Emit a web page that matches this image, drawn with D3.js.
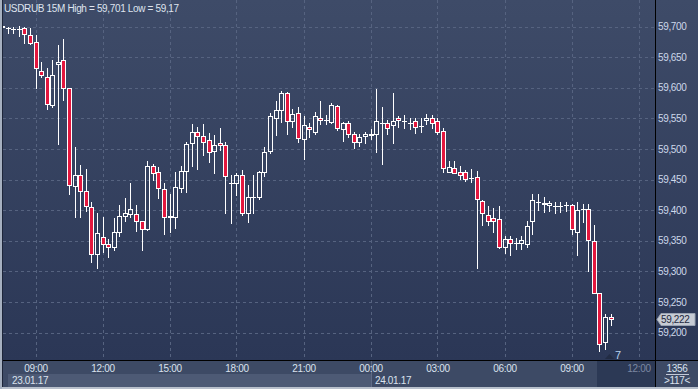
<!DOCTYPE html>
<html>
<head>
<meta charset="utf-8">
<script src="https://cdnjs.cloudflare.com/ajax/libs/d3/7.8.5/d3.min.js"></script>
<style>
  body { margin: 0; background: #2c3856; }
  svg { display: block; }
  text { font-family: "Liberation Sans", Arial, sans-serif; font-size: 10px; letter-spacing: -0.35px; }
</style>
</head>
<body>
<div class="graph"></div>
<script>
// 15 minute bars, 23.01.17 07:30 .. 24.01.17 10:45
var open = [59.699,59.697,59.696,59.696,59.697,59.686,59.674,59.627,59.617,59.571,
            59.638,59.645,59.599,59.439,59.457,59.431,59.405,59.328,59.356,59.344,
            59.339,59.365,59.391,59.393,59.393,59.382,59.369,59.472,59.462,59.434,
            59.389,59.389,59.436,59.464,59.509,59.527,59.521,59.514,59.496,59.509,
            59.506,59.444,59.444,59.458,59.395,59.422,59.421,59.462,59.496,59.551,
            59.563,59.591,59.546,59.558,59.516,59.536,59.528,59.550,59.548,59.544,
            59.570,59.532,59.542,59.525,59.511,59.521,59.525,59.524,59.542,59.543,
            59.539,59.550,59.545,59.542,59.545,59.537,59.547,59.550,59.545,59.529,
            59.463,59.468,59.462,59.462,59.453,59.454,59.415,59.392,59.387,59.385,
            59.339,59.352,59.346,59.347,59.345,59.382,59.413,59.410,59.409,59.407,
            59.407,59.409,59.408,59.365,59.402,59.401,59.349,59.264,59.184,59.225];
var high = [59.701,59.700,59.700,59.701,59.700,59.697,59.686,59.642,59.632,59.645,
            59.670,59.680,59.600,59.503,59.473,59.467,59.413,59.396,59.389,59.352,
            59.387,59.408,59.419,59.444,59.409,59.383,59.481,59.476,59.471,59.444,
            59.426,59.463,59.472,59.512,59.541,59.536,59.541,59.526,59.522,59.534,
            59.512,59.458,59.461,59.466,59.441,59.457,59.464,59.503,59.558,59.579,
            59.595,59.593,59.565,59.569,59.553,59.543,59.560,59.578,59.555,59.575,
            59.572,59.544,59.545,59.528,59.524,59.528,59.532,59.598,59.568,59.547,
            59.591,59.553,59.555,59.550,59.550,59.550,59.557,59.555,59.550,59.534,
            59.480,59.480,59.472,59.466,59.467,59.464,59.417,59.406,59.404,59.406,
            59.358,59.358,59.355,59.358,59.383,59.427,59.427,59.421,59.415,59.414,
            59.413,59.413,59.410,59.413,59.410,59.410,59.376,59.264,59.231,59.231];
var low  = [59.698,59.689,59.690,59.685,59.673,59.671,59.599,59.618,59.566,59.568,
            59.508,59.580,59.427,59.388,59.388,59.399,59.315,59.305,59.331,59.324,
            59.334,59.358,59.382,59.389,59.366,59.334,59.367,59.450,59.419,59.361,
            59.364,59.371,59.429,59.430,59.472,59.467,59.490,59.479,59.460,59.498,
            59.396,59.379,59.424,59.392,59.381,59.395,59.418,59.455,59.493,59.523,
            59.544,59.525,59.536,59.511,59.483,59.520,59.524,59.541,59.540,59.543,
            59.531,59.513,59.519,59.501,59.505,59.510,59.516,59.495,59.476,59.524,
            59.510,59.536,59.534,59.532,59.526,59.528,59.541,59.534,59.524,59.462,
            59.462,59.460,59.451,59.448,59.446,59.305,59.375,59.375,59.365,59.338,
            59.330,59.327,59.336,59.337,59.340,59.361,59.400,59.397,59.398,59.396,
            59.397,59.398,59.361,59.327,59.381,59.301,59.264,59.170,59.173,59.213];
var close = [59.701,59.697,59.696,59.696,59.687,59.673,59.632,59.620,59.573,59.620,
             59.642,59.599,59.441,59.457,59.432,59.406,59.329,59.362,59.344,59.339,
             59.365,59.391,59.395,59.401,59.383,59.369,59.472,59.460,59.436,59.388,
             59.390,59.437,59.464,59.508,59.528,59.521,59.511,59.495,59.507,59.506,
             59.455,59.444,59.457,59.395,59.422,59.422,59.462,59.495,59.553,59.563,
             59.592,59.545,59.557,59.517,59.539,59.532,59.553,59.547,59.548,59.572,
             59.534,59.542,59.524,59.511,59.519,59.524,59.522,59.545,59.542,59.534,
             59.545,59.547,59.545,59.542,59.536,59.537,59.550,59.542,59.527,59.468,
             59.470,59.461,59.458,59.451,59.453,59.418,59.395,59.383,59.383,59.339,
             59.352,59.347,59.346,59.351,59.374,59.417,59.413,59.411,59.411,59.407,
             59.407,59.409,59.369,59.400,59.402,59.351,59.265,59.182,59.226,59.222];

var yTicks = [59.20, 59.25, 59.30, 59.35, 59.40, 59.45, 59.50, 59.55, 59.60, 59.65, 59.70];
var dayLabels = ["23.01.17", "24.01.17"];
var title = "USDRUB 15M High = 59,701 Low = 59,17";
var lastPrice = 59.222;
var counters = ["1356", ">117<"];
var marker = "7";

var width = 698, height = 389;
var plot = {left: 3, right: 655, top: 0, bottom: 360};

var times = d3.timeMinute.every(15).range(new Date(2017, 0, 23, 7, 30), new Date(2017, 0, 24, 11, 0));
var dayStart = new Date(2017, 0, 24, 0, 0);

var x = d3.scaleTime()
    .domain([new Date(2017, 0, 23, 9, 0), new Date(2017, 0, 24, 12, 0)])
    .range([35.5, 638.5]);

var y = d3.scaleLinear()
    .domain([59.2, 59.7])
    .range([332.5, 26.5]);

var fmtPrice = function(d) { return d3.format(".3f")(d).replace(".", ","); };

var svg = d3.select(".graph").append("svg")
    .attr("width", width)
    .attr("height", height);

var defs = svg.append("defs");
var grad = defs.append("linearGradient")
    .attr("id", "bg")
    .attr("gradientUnits", "userSpaceOnUse")
    .attr("x1", 0).attr("y1", 0).attr("x2", 0).attr("y2", plot.bottom);
grad.append("stop").attr("offset", "0%").attr("stop-color", "#3e4b68");
grad.append("stop").attr("offset", "100%").attr("stop-color", "#2b3756");

defs.append("clipPath").attr("id", "clip")
  .append("rect")
    .attr("x", plot.left).attr("y", plot.top)
    .attr("width", plot.right - plot.left).attr("height", plot.bottom - plot.top);

svg.append("rect")
    .attr("width", width).attr("height", plot.bottom)
    .attr("fill", "url(#bg)");

// grid
var xTicks = x.ticks(d3.timeHour.every(3));

svg.append("g").selectAll("line")
    .data(xTicks)
  .enter().append("line")
    .attr("x1", function(d) { return Math.round(x(d)) + 0.5; })
    .attr("x2", function(d) { return Math.round(x(d)) + 0.5; })
    .attr("y1", plot.top).attr("y2", plot.bottom)
    .attr("stroke", "#566380")
    .attr("stroke-dasharray", "3,3");

svg.append("g").selectAll("line")
    .data(yTicks)
  .enter().append("line")
    .attr("x1", plot.left).attr("x2", plot.right)
    .attr("y1", function(d) { return Math.round(y(d)) + 0.5; })
    .attr("y2", function(d) { return Math.round(y(d)) + 0.5; })
    .attr("stroke", "#566380")
    .attr("stroke-dasharray", "3,3");

// candles
var candle = svg.append("g")
    .attr("clip-path", "url(#clip)")
  .selectAll(".candle")
    .data(times)
  .enter().append("g")
    .attr("class", "candle")
    .each(function(t, i) {
      var g = d3.select(this);
      var cx = Math.round(x(t));
      var o = open[i], c = close[i];
      var yH = Math.round(y(high[i])), yL = Math.round(y(low[i]));
      var yT = Math.round(y(Math.max(o, c))), yB = Math.round(y(Math.min(o, c)));
      if (yH < yT) {
        g.append("line").attr("x1", cx + 0.5).attr("x2", cx + 0.5)
          .attr("y1", yH).attr("y2", yT).attr("stroke", "#fff");
      }
      if (yL > yB) {
        g.append("line").attr("x1", cx + 0.5).attr("x2", cx + 0.5)
          .attr("y1", yB + 1).attr("y2", yL + 1).attr("stroke", "#fff");
      }
      if (yB === yT) {
        g.append("line").attr("x1", cx - 2).attr("x2", cx + 3)
          .attr("y1", yT + 0.5).attr("y2", yT + 0.5).attr("stroke", "#fff");
      } else {
        g.append("rect")
          .attr("x", cx - 1.5).attr("y", yT + 0.5)
          .attr("width", 4).attr("height", yB - yT)
          .attr("fill", c < o ? "#e3173e" : "none")
          .attr("stroke", "#fff");
      }
    });

// bottom time axis
svg.append("rect")
    .attr("x", plot.left).attr("y", plot.bottom + 1)
    .attr("width", width - plot.left).attr("height", 26)
    .attr("fill", "#3d4a65");

svg.append("rect")
    .attr("x", 8).attr("y", 374)
    .attr("width", Math.round(x(dayStart)) - 8).attr("height", 13)
    .attr("fill", "#4d5a75");

svg.append("line")
    .attr("x1", Math.round(x(dayStart)) + 0.5).attr("x2", Math.round(x(dayStart)) + 0.5)
    .attr("y1", plot.bottom + 1).attr("y2", 387)
    .attr("stroke", "#5e6b86");

svg.append("rect")
    .attr("x", 597).attr("y", plot.bottom + 1)
    .attr("width", plot.right - 597).attr("height", 26)
    .attr("fill", "#2c3955");

var xAxis = d3.axisBottom(x)
    .ticks(d3.timeHour.every(3))
    .tickFormat(d3.timeFormat("%H:%M"))
    .tickSize(0)
    .tickPadding(5);

var gx = svg.append("g")
    .attr("transform", "translate(0," + plot.bottom + ")")
    .call(xAxis);
gx.select(".domain").remove();
gx.selectAll("text")
    .attr("fill", function(d, i) { return i === xTicks.length - 1 ? "#7b88a2" : "#dae2ee"; });

svg.selectAll(".day")
    .data(dayLabels)
  .enter().append("text")
    .attr("class", "day")
    .attr("x", function(d, i) { return i === 0 ? 12 : Math.round(x(dayStart)) + 4; })
    .attr("y", 383.5)
    .attr("fill", "#dae2ee")
    .text(function(d) { return d; });

// right price axis
var yAxis = d3.axisRight(y)
    .tickValues(yTicks)
    .tickFormat(fmtPrice)
    .tickSize(0)
    .tickPadding(3);

var gy = svg.append("g")
    .attr("transform", "translate(" + plot.right + ",0)")
    .call(yAxis);
gy.select(".domain").remove();
gy.selectAll("text").attr("fill", "#cdd8ea");

// frame lines
svg.append("line")
    .attr("x1", plot.left).attr("x2", width)
    .attr("y1", plot.bottom + 0.5).attr("y2", plot.bottom + 0.5)
    .attr("stroke", "#000");
svg.append("line")
    .attr("x1", plot.right + 0.5).attr("x2", plot.right + 0.5)
    .attr("y1", 0).attr("y2", 387)
    .attr("stroke", "#000");
svg.append("rect")
    .attr("x", 0).attr("y", 387).attr("width", width).attr("height", 2)
    .attr("fill", "#b8c0cc");
svg.append("rect")
    .attr("x", 0).attr("y", 0).attr("width", 2).attr("height", height)
    .attr("fill", "#a6b0c0");
svg.append("line")
    .attr("x1", 2.5).attr("x2", 2.5).attr("y1", 0).attr("y2", 387)
    .attr("stroke", "#1d2539");

// last price tag
var yp = Math.round(y(lastPrice)) + 0.5;
svg.append("path")
    .attr("d", "M657," + yp + " L661," + (yp - 6) + " L695," + (yp - 6) + " L695," + (yp + 6) + " L661," + (yp + 6) + " Z")
    .attr("fill", "#c6cbd4")
    .attr("stroke", "#9aa3b3");
svg.append("text")
    .attr("x", 661).attr("y", yp)
    .attr("dy", "0.35em")
    .attr("fill", "#1e2840")
    .text(fmtPrice(lastPrice));

// bar counters, bottom right
svg.append("text")
    .attr("x", 677).attr("y", 372)
    .attr("text-anchor", "middle")
    .attr("fill", "#dae2ee")
    .text(counters[0]);
svg.append("line")
    .attr("x1", 666).attr("x2", 689)
    .attr("y1", 374.5).attr("y2", 374.5)
    .attr("stroke", "#c3cad8");
svg.append("text")
    .attr("x", 677).attr("y", 384)
    .attr("text-anchor", "middle")
    .attr("fill", "#dae2ee")
    .text(counters[1]);

// marker near last bar
svg.append("path")
    .attr("d", "M605,359 L609.5,354 L614,359 Z")
    .attr("fill", "#222c44");
svg.append("text")
    .attr("x", 615).attr("y", 359)
    .attr("fill", "#b8d4f0")
    .style("font-size", "11px")
    .text(marker);

svg.append("text")
    .attr("x", 4).attr("y", 12)
    .attr("fill", "#dfe4ee")
    .text(title);
</script>
</body>
</html>
